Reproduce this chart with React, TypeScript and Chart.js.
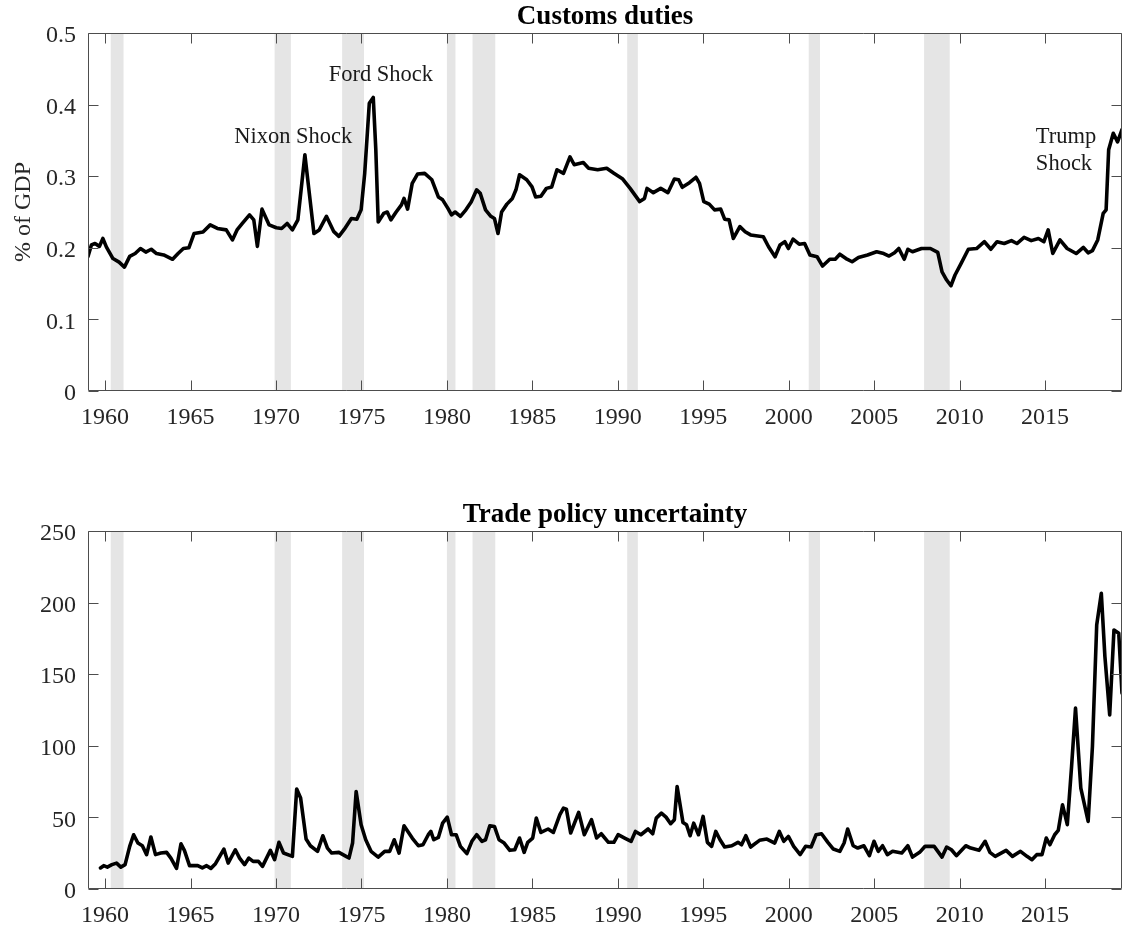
import React, { useEffect, useRef } from "react";
import { Chart, registerables } from "chart.js";

Chart.register(...registerables);

// ---------- data ----------
const xTicks = [1960, 1965, 1970, 1975, 1980, 1985, 1990, 1995, 2000, 2005, 2010, 2015];
const customsTicks = [0, 0.1, 0.2, 0.3, 0.4, 0.5];
const tpuTicks = [0, 50, 100, 150, 200, 250];

// NBER recessions (start, end) in fractional years
const recessionStarts = [1960.33, 1969.92, 1973.87, 1980.0, 1981.5, 1990.55, 2001.17, 2007.92];
const recessionEnds = [1961.08, 1970.87, 1975.15, 1980.5, 1982.83, 1991.17, 2001.83, 2009.42];

// Customs duties, % of GDP
const customsYears = [
  1959.0, 1959.2, 1959.41, 1959.67, 1959.87, 1960.08, 1960.46, 1960.82, 1961.13, 1961.44,
  1961.76, 1962.07, 1962.38, 1962.7, 1963.01, 1963.43, 1963.95, 1964.27, 1964.58, 1964.9,
  1965.21, 1965.73, 1966.15, 1966.57, 1967.09, 1967.45, 1967.72, 1968.03, 1968.45, 1968.7,
  1968.91, 1969.18, 1969.6, 1970.02, 1970.33, 1970.65, 1970.96, 1971.28, 1971.69, 1971.95,
  1972.22, 1972.53, 1972.95, 1973.37, 1973.68, 1974.0, 1974.41, 1974.73, 1974.98, 1975.19,
  1975.46, 1975.69, 1975.84, 1975.98, 1976.3, 1976.51, 1976.72, 1977.03, 1977.34, 1977.49,
  1977.7, 1977.97, 1978.28, 1978.7, 1979.12, 1979.5, 1979.75, 1980.06, 1980.27, 1980.48,
  1980.79, 1981.11, 1981.42, 1981.74, 1981.95, 1982.26, 1982.57, 1982.78, 1982.99, 1983.2,
  1983.51, 1983.83, 1984.04, 1984.25, 1984.67, 1984.98, 1985.19, 1985.5, 1985.82, 1986.13,
  1986.44, 1986.82, 1987.2, 1987.45, 1987.98, 1988.29, 1988.82, 1989.35, 1989.77, 1990.29,
  1990.72, 1991.28, 1991.56, 1991.71, 1992.08, 1992.51, 1992.93, 1993.31, 1993.56, 1993.77,
  1994.19, 1994.57, 1994.78, 1995.03, 1995.35, 1995.66, 1996.02, 1996.25, 1996.51, 1996.76,
  1997.14, 1997.45, 1997.77, 1998.51, 1998.82, 1999.2, 1999.49, 1999.77, 1999.98, 2000.25,
  2000.61, 2000.93, 2001.24, 2001.66, 2001.98, 2002.4, 2002.72, 2002.99, 2003.35, 2003.71,
  2004.08, 2004.61, 2005.14, 2005.56, 2005.87, 2006.19, 2006.44, 2006.76, 2006.97, 2007.24,
  2007.77, 2008.29, 2008.72, 2008.97, 2009.24, 2009.49, 2009.73, 2010.08, 2010.51, 2010.99,
  2011.45, 2011.83, 2012.19, 2012.61, 2013.03, 2013.35, 2013.77, 2014.19, 2014.61, 2014.93,
  2015.18, 2015.45, 2015.87, 2016.29, 2016.82, 2017.24, 2017.52, 2017.77, 2018.08, 2018.4,
  2018.57, 2018.72, 2018.99, 2019.24, 2019.5,
];
const customsShare = [
  0.188, 0.204, 0.206, 0.202, 0.213, 0.201, 0.185, 0.18, 0.173, 0.188,
  0.192, 0.199, 0.194, 0.198, 0.192, 0.19, 0.184, 0.192, 0.199, 0.2,
  0.22, 0.222, 0.232, 0.227, 0.225, 0.211, 0.225, 0.234, 0.246, 0.239,
  0.202, 0.254, 0.232, 0.228, 0.227, 0.234, 0.225, 0.239, 0.33, 0.276,
  0.22, 0.225, 0.244, 0.223, 0.216, 0.226, 0.241, 0.24, 0.253, 0.304,
  0.402, 0.41, 0.337, 0.236, 0.248, 0.25, 0.239, 0.25, 0.26, 0.269,
  0.254, 0.29, 0.303, 0.304, 0.295, 0.271, 0.267, 0.255, 0.246, 0.25,
  0.244, 0.253, 0.264, 0.281, 0.276, 0.253, 0.244, 0.241, 0.22, 0.25,
  0.261, 0.269, 0.281, 0.302, 0.295, 0.285, 0.271, 0.272, 0.283, 0.285,
  0.309, 0.304, 0.327, 0.316, 0.319, 0.311, 0.309, 0.311, 0.304, 0.296,
  0.283, 0.2645, 0.269, 0.283, 0.277, 0.283, 0.277, 0.296, 0.295, 0.2845,
  0.291, 0.2985, 0.29, 0.2645, 0.261, 0.253, 0.254, 0.24, 0.239, 0.213,
  0.2295, 0.2225, 0.218, 0.2155, 0.2015, 0.1875, 0.204, 0.2085, 0.199, 0.212,
  0.205, 0.206, 0.19, 0.1875, 0.1745, 0.184, 0.184, 0.191, 0.185, 0.1805,
  0.1865, 0.19, 0.1945, 0.192, 0.1885, 0.193, 0.199, 0.184, 0.198, 0.1945,
  0.199, 0.199, 0.1935, 0.1665, 0.155, 0.147, 0.162, 0.178, 0.198, 0.199,
  0.2085, 0.198, 0.2085, 0.206, 0.21, 0.206, 0.2145, 0.21, 0.213, 0.2085,
  0.225, 0.192, 0.211, 0.199, 0.192, 0.2005, 0.193, 0.196, 0.211, 0.248,
  0.253, 0.337, 0.36, 0.348, 0.365,
];

// Trade policy uncertainty index
const tpuYears = [
  1959.73, 1959.92, 1960.13, 1960.4, 1960.67, 1960.92, 1961.17, 1961.44, 1961.67, 1961.92,
  1962.18, 1962.43, 1962.68, 1962.95, 1963.26, 1963.6, 1963.85, 1964.18, 1964.44, 1964.64,
  1964.94, 1965.42, 1965.69, 1965.94, 1966.19, 1966.46, 1966.95, 1967.2, 1967.62, 1967.87,
  1968.16, 1968.41, 1968.66, 1968.97, 1969.21, 1969.67, 1969.92, 1970.17, 1970.44, 1970.96,
  1971.21, 1971.44, 1971.76, 1972.01, 1972.43, 1972.74, 1973.01, 1973.26, 1973.68, 1974.1,
  1974.27, 1974.48, 1974.69, 1974.98, 1975.25, 1975.56, 1975.98, 1976.36, 1976.65, 1976.92,
  1977.2, 1977.49, 1977.97, 1978.33, 1978.6, 1978.91, 1979.06, 1979.23, 1979.5, 1979.75,
  1980.02, 1980.27, 1980.54, 1980.79, 1981.17, 1981.46, 1981.74, 1982.05, 1982.26, 1982.51,
  1982.78, 1983.05, 1983.35, 1983.68, 1983.97, 1984.25, 1984.52, 1984.73, 1985.02, 1985.23,
  1985.5, 1985.92, 1986.23, 1986.61, 1986.82, 1986.99, 1987.24, 1987.71, 1988.04, 1988.46,
  1988.76, 1989.03, 1989.45, 1989.77, 1990.02, 1990.4, 1990.78, 1991.03, 1991.35, 1991.77,
  1992.04, 1992.25, 1992.55, 1992.82, 1993.09, 1993.31, 1993.47, 1993.81, 1994.02, 1994.23,
  1994.44, 1994.72, 1994.99, 1995.24, 1995.49, 1995.73, 1995.98, 1996.25, 1996.67, 1997.03,
  1997.24, 1997.49, 1997.77, 1998.29, 1998.72, 1999.18, 1999.45, 1999.71, 1999.98, 2000.29,
  2000.67, 2000.99, 2001.31, 2001.6, 2001.92, 2002.29, 2002.61, 2002.99, 2003.24, 2003.45,
  2003.77, 2004.04, 2004.4, 2004.72, 2004.99, 2005.24, 2005.49, 2005.77, 2006.08, 2006.61,
  2006.97, 2007.24, 2007.66, 2007.98, 2008.51, 2008.97, 2009.24, 2009.52, 2009.81, 2010.36,
  2010.65, 2011.14, 2011.49, 2011.77, 2012.08, 2012.72, 2013.09, 2013.56, 2013.94, 2014.23,
  2014.51, 2014.82, 2015.07, 2015.28, 2015.56, 2015.77, 2016.02, 2016.3, 2016.55, 2016.78,
  2017.09, 2017.52, 2017.77, 2018.02, 2018.29, 2018.5, 2018.78, 2019.03, 2019.31, 2019.5,
];
const tpuIndex = [
  14.7, 16.3, 15.3, 17.0, 18.1, 15.3, 17.0, 29.8, 37.9, 32.1,
  30.2, 24.0, 36.3, 24.0, 25.1, 25.6, 21.6, 14.4, 31.6, 27.0,
  16.3, 16.3, 14.7, 16.3, 14.4, 17.7, 27.9, 18.1, 27.4, 21.6,
  17.0, 21.6, 19.3, 19.3, 15.8, 27.0, 20.5, 32.6, 25.1, 22.8,
  69.8, 63.5, 34.9, 30.2, 26.3, 37.2, 28.6, 25.1, 25.6, 22.8,
  21.6, 32.1, 68.1, 44.9, 34.4, 26.3, 22.3, 26.3, 26.3, 34.4,
  25.1, 44.2, 35.6, 30.2, 30.9, 37.9, 40.2, 34.4, 36.0, 46.0,
  50.2, 37.9, 37.9, 29.8, 24.7, 33.3, 37.9, 33.3, 34.4, 44.2,
  43.7, 34.4, 32.1, 27.0, 27.4, 35.6, 25.6, 32.6, 35.6, 49.5,
  39.5, 41.9, 39.5, 51.9, 56.5, 55.8, 39.1, 53.5, 37.9, 48.4,
  35.6, 38.6, 32.6, 32.6, 37.9, 35.6, 33.3, 40.2, 37.9, 41.9,
  38.6, 49.5, 53.0, 50.2, 45.6, 48.4, 71.6, 46.5, 44.9, 37.2,
  46.0, 37.9, 50.7, 32.6, 29.8, 40.2, 34.4, 29.3, 30.2, 32.6,
  30.9, 37.2, 29.3, 34.0, 34.9, 32.1, 40.2, 33.3, 36.7, 29.8,
  24.0, 29.8, 29.3, 37.9, 38.6, 32.6, 27.9, 26.3, 32.1, 41.9,
  30.2, 28.6, 30.2, 23.3, 33.3, 26.3, 30.2, 24.0, 26.3, 25.1,
  30.2, 22.3, 25.6, 29.8, 29.8, 22.3, 29.3, 27.4, 23.3, 30.2,
  28.6, 27.0, 33.3, 25.6, 22.8, 27.0, 22.8, 26.3, 22.8, 20.5,
  24.0, 24.0, 35.6, 30.9, 37.9, 40.9, 58.8, 44.9, 85.6, 126.3,
  70.5, 47.2, 99.5, 184.4, 206.5, 162.3, 121.6, 180.9, 178.6, 136.7,
];

// Text annotations anchored at data coordinates (year, value)
const customsNotes = [
  { lines: ["Nixon Shock"], year: 1967.55, value: 0.346 },
  { lines: ["Ford Shock"], year: 1973.08, value: 0.433 },
  { lines: ["Trump", "Shock"], year: 2014.46, value: 0.347 },
];

// ---------- styling ----------
const SERIF = '"Liberation Serif", "Times New Roman", Times, serif';
const TEXT = "#262626";
const AXIS = "#4d4d4d";
const SHADE = "#e5e5e5";

type PanelCfg = {
  title: string;
  years: number[];
  values: number[];
  yMin: number;
  yMax: number;
  yTicks: number[];
  yTitle?: string;
  padTop: number;
  xHeight: number;
  notes: { lines: string[]; year: number; value: number }[];
};

function panelPlugin(cfg: PanelCfg) {
  return {
    id: "panelDecor",
    beforeDatasetsDraw(chart: any) {
      const { ctx, chartArea: a, scales } = chart;
      const x = scales.x;
      ctx.save();
      ctx.fillStyle = SHADE;
      recessionStarts.forEach((s, i) => {
        const x0 = x.getPixelForValue(s);
        const x1 = x.getPixelForValue(recessionEnds[i]);
        ctx.fillRect(x0, a.top, x1 - x0, a.bottom - a.top);
      });
      ctx.restore();
    },
    afterDatasetsDraw(chart: any) {
      const { ctx, chartArea: a, scales } = chart;
      const x = scales.x;
      const y = scales.y;
      const tl = 10;
      ctx.save();
      ctx.strokeStyle = AXIS;
      ctx.lineWidth = 1;
      ctx.beginPath();
      const L = Math.round(a.left) + 0.5;
      const R = Math.round(a.right) - 0.5;
      const T = Math.round(a.top) + 0.5;
      const B = Math.round(a.bottom) - 0.5;
      ctx.rect(L, T, R - L, B - T);
      xTicks.forEach((v) => {
        const px = Math.round(x.getPixelForValue(v)) + 0.5;
        ctx.moveTo(px, B);
        ctx.lineTo(px, B - tl);
        ctx.moveTo(px, T);
        ctx.lineTo(px, T + tl);
      });
      cfg.yTicks.forEach((v) => {
        const py = Math.round(y.getPixelForValue(v)) + 0.5;
        ctx.moveTo(L, py);
        ctx.lineTo(L + tl, py);
        ctx.moveTo(R, py);
        ctx.lineTo(R - tl, py);
      });
      ctx.stroke();
      ctx.restore();
    },
    afterDraw(chart: any) {
      const { ctx, chartArea: a, scales } = chart;
      ctx.save();
      ctx.fillStyle = "#000";
      ctx.font = `bold 27px ${SERIF}`;
      ctx.textAlign = "center";
      ctx.textBaseline = "alphabetic";
      ctx.fillText(cfg.title, (a.left + a.right) / 2, a.top - 9.5);
      ctx.font = `22.5px ${SERIF}`;
      ctx.fillStyle = "#1a1a1a";
      ctx.textAlign = "left";
      cfg.notes.forEach((n) => {
        const px = scales.x.getPixelForValue(n.year);
        const py = scales.y.getPixelForValue(n.value);
        n.lines.forEach((ln, i) => ctx.fillText(ln, px, py + i * 27));
      });
      ctx.restore();
    },
  };
}

function buildChart(canvas: HTMLCanvasElement, cfg: PanelCfg) {
  const tickFont = { family: SERIF, size: 24 };
  return new Chart(canvas, {
    type: "line",
    data: {
      datasets: [
        {
          data: cfg.years.map((yr, i) => ({ x: yr, y: cfg.values[i] })),
          borderColor: "#000",
          borderWidth: 3.6,
          pointRadius: 0,
          tension: 0,
          borderJoinStyle: "round",
          borderCapStyle: "round",
          fill: false,
        },
      ],
    },
    options: {
      responsive: false,
      animation: false,
      events: [],
      layout: { padding: { top: cfg.padTop, right: 2, left: 0, bottom: 0 } },
      plugins: {
        legend: { display: false },
        tooltip: { enabled: false },
        title: { display: false },
      },
      scales: {
        x: {
          type: "linear",
          min: 1959,
          max: 2019.5,
          grid: { display: false },
          border: { display: false },
          afterBuildTicks: (s: any) => {
            s.ticks = xTicks.map((v) => ({ value: v }));
          },
          afterFit: (s: any) => {
            s.height = cfg.xHeight;
          },
          ticks: {
            padding: 4,
            color: TEXT,
            font: tickFont,
            maxRotation: 0,
            autoSkip: false,
            callback: (v: any) => String(v),
          },
        },
        y: {
          type: "linear",
          min: cfg.yMin,
          max: cfg.yMax,
          grid: { display: false },
          border: { display: false },
          afterBuildTicks: (s: any) => {
            s.ticks = cfg.yTicks.map((v) => ({ value: v }));
          },
          afterFit: (s: any) => {
            s.width = 88;
          },
          ticks: {
            padding: 4,
            labelOffset: 3,
            color: TEXT,
            font: tickFont,
            autoSkip: false,
            callback: (v: any) => String(v),
          },
          title: cfg.yTitle
            ? {
                display: true,
                text: cfg.yTitle,
                color: TEXT,
                font: { family: SERIF, size: 24 },
                padding: { top: 9, bottom: 0 },
              }
            : { display: false },
        },
      },
    } as any,
    plugins: [panelPlugin(cfg)],
  } as any);
}

export default function App() {
  const topRef = useRef<HTMLCanvasElement>(null);
  const botRef = useRef<HTMLCanvasElement>(null);

  useEffect(() => {
    const top = buildChart(topRef.current!, {
      title: "Customs duties",
      years: customsYears,
      values: customsShare,
      yMin: 0,
      yMax: 0.5,
      yTicks: customsTicks,
      yTitle: "% of GDP",
      padTop: 33,
      xHeight: 69,
      notes: customsNotes,
    });
    const bot = buildChart(botRef.current!, {
      title: "Trade policy uncertainty",
      years: tpuYears,
      values: tpuIndex,
      yMin: 0,
      yMax: 250,
      yTicks: tpuTicks,
      padTop: 71,
      xHeight: 39,
      notes: [],
    });
    return () => {
      top.destroy();
      bot.destroy();
    };
  }, []);

  return (
    <div
      style={{
        position: "absolute",
        left: 0,
        top: 0,
        width: 1124,
        height: 928,
        background: "#fff",
        overflow: "hidden",
      }}
    >
      <canvas
        ref={topRef}
        width={1124}
        height={460}
        style={{ position: "absolute", left: 0, top: 0, width: 1124, height: 460 }}
      />
      <canvas
        ref={botRef}
        width={1124}
        height={468}
        style={{ position: "absolute", left: 0, top: 460, width: 1124, height: 468 }}
      />
    </div>
  );
}
